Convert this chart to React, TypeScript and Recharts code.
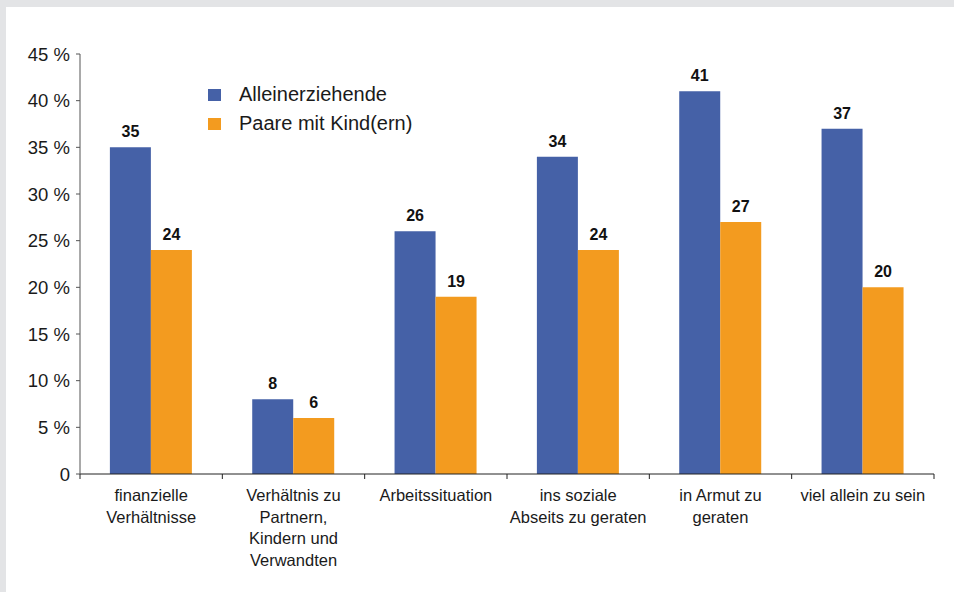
import React from "react";
import { BarChart, Bar, XAxis, YAxis, Legend, LabelList } from "recharts";

const categories = [
  "finanzielle\nVerhältnisse",
  "Verhältnis zu\nPartnern,\nKindern und\nVerwandten",
  "Arbeitssituation",
  "ins soziale\nAbseits zu geraten",
  "in Armut zu\ngeraten",
  "viel allein zu sein",
];
const alleinerziehende = [35, 8, 26, 34, 41, 37];
const paare = [24, 6, 19, 24, 27, 20];
const yTicks = [0, 5, 10, 15, 20, 25, 30, 35, 40, 45];

const BLUE = "#4561a7";
const ORANGE = "#f39b1f";
const FONT = '"Liberation Sans", Arial, sans-serif';

const W = 948;
const H = 585;
const MARGIN = { top: 47, right: 20, left: 0, bottom: 18 };
const Y_WIDTH = 74;
const BAND = (W - MARGIN.left - MARGIN.right - Y_WIDTH) / categories.length;

const data = categories.map((c, i) => ({
  name: c,
  allein: alleinerziehende[i],
  paare: paare[i],
}));

const CategoryTick = (props: any) => {
  const { x, y, payload, index } = props;
  const lines = String(payload.value).split("\n");
  const half = BAND / 2;
  return (
    <g>
      <line x1={x - half} x2={x - half} y1={y} y2={y + 5} stroke="#222" />
      {index === categories.length - 1 && (
        <line x1={x + half} x2={x + half} y1={y} y2={y + 5} stroke="#222" />
      )}
      <text x={x} y={y + 27} textAnchor="middle" fontSize={16.5} fill="#1a1a1a" fontFamily={FONT}>
        {lines.map((l, i) => (
          <tspan key={i} x={x} dy={i === 0 ? 0 : 21.5}>
            {l}
          </tspan>
        ))}
      </text>
    </g>
  );
};

const LegendBox = () => (
  <div style={{ fontFamily: FONT, fontSize: 20, color: "#1a1a1a" }}>
    {[
      { label: "Alleinerziehende", color: BLUE },
      { label: "Paare mit Kind(ern)", color: ORANGE },
    ].map((it) => (
      <div key={it.label} style={{ display: "flex", alignItems: "center", height: 29 }}>
        <span style={{ width: 13, height: 12, background: it.color, marginRight: 18, display: "inline-block" }} />
        <span>{it.label}</span>
      </div>
    ))}
  </div>
);

export default function App() {
  return (
    <div style={{ position: "fixed", left: 0, top: 0, width: 954, height: 592, background: "#e3e4e6" }}>
      <div style={{ position: "absolute", left: 6, top: 7, width: W, height: H, background: "#fff" }}>
        <BarChart
          width={W}
          height={H}
          data={data}
          margin={MARGIN}
          barGap={0}
          barCategoryGap="21%"
          style={{ fontFamily: FONT }}
        >
          <XAxis
            dataKey="name"
            height={100}
            tickLine={false}
            tickSize={0}
            tickMargin={0}
            interval={0}
            axisLine={{ stroke: "#222" }}
            tick={<CategoryTick />}
          />
          <YAxis
            width={Y_WIDTH}
            domain={[0, 45]}
            ticks={yTicks}
            interval={0}
            tickSize={4}
            tickMargin={6}
            axisLine={{ stroke: "#555" }}
            tickLine={{ stroke: "#555" }}
            tick={{ fontSize: 18.5, fill: "#1a1a1a", fontFamily: FONT }}
            tickFormatter={(v: number) => (v === 0 ? "0" : `${v} %`)}
          />
          <Legend
            layout="vertical"
            align="center"
            verticalAlign="middle"
            content={<LegendBox />}
            wrapperStyle={{ position: "absolute", left: 202, top: 73, width: "auto", height: "auto" }}
          />
          <Bar dataKey="allein" name="Alleinerziehende" fill={BLUE} isAnimationActive={false}>
            <LabelList dataKey="allein" position="top" offset={10} fontSize={16} fontWeight="bold" fill="#111" fontFamily={FONT} />
          </Bar>
          <Bar dataKey="paare" name="Paare mit Kind(ern)" fill={ORANGE} isAnimationActive={false}>
            <LabelList dataKey="paare" position="top" offset={10} fontSize={16} fontWeight="bold" fill="#111" fontFamily={FONT} />
          </Bar>
        </BarChart>
      </div>
    </div>
  );
}
